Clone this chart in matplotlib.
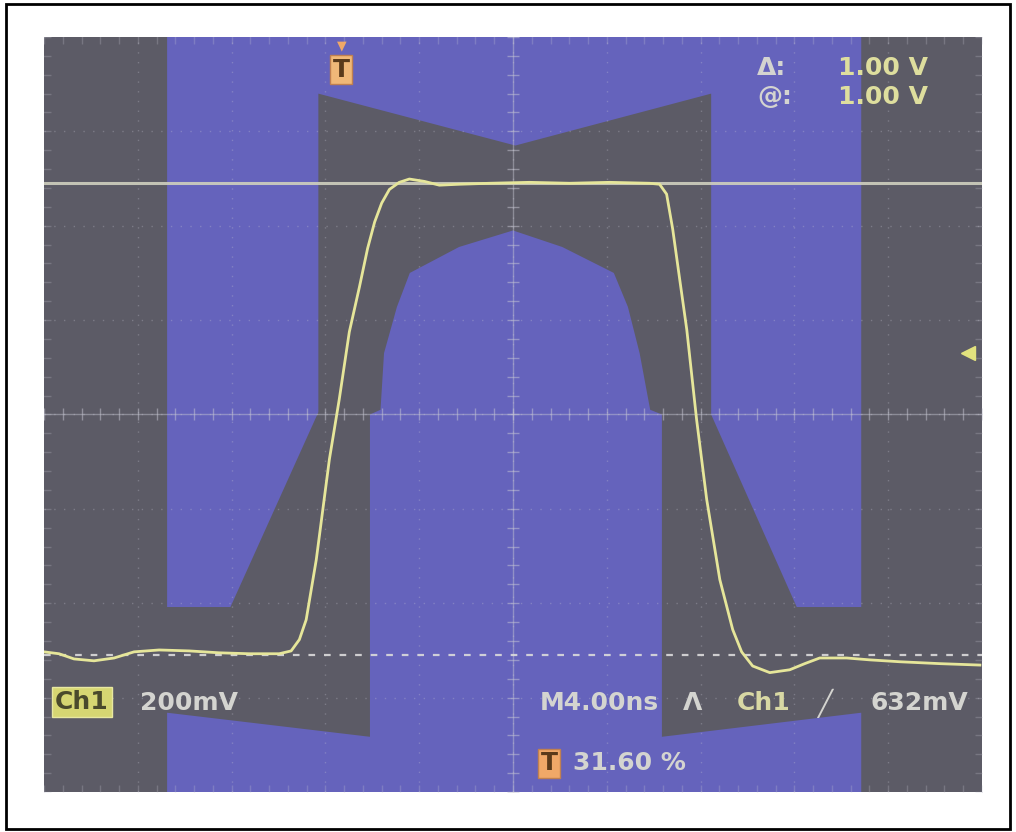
import matplotlib.pyplot as plt
import numpy as np
from matplotlib.patches import Polygon, Rectangle

# Ch1 trace: time in ns (4 ns/div), level in V (200 mV/div)
time_ns = [-20.0, -19.36, -18.72, -17.87, -17.01, -16.16, -15.09, -13.81, -12.53, -11.25,
           -9.97, -9.46, -9.11, -8.82, -8.39, -7.83, -7.41, -6.98, -6.55, -6.2,
           -5.9, -5.6, -5.27, -4.85, -4.42, -3.78, -3.14, -2.28, -1.0, 0.7,
           2.41, 4.12, 5.83, 6.25, 6.55, 6.81, 7.11, 7.41, 7.83, 8.26,
           8.82, 9.37, 9.75, 10.22, 10.95, 11.8, 12.44, 13.08, 14.23, 15.22,
           16.5, 18.21, 19.91]
volts = [-0.503, -0.507, -0.518, -0.522, -0.516, -0.503, -0.499, -0.501, -0.505, -0.507,
         -0.507, -0.501, -0.477, -0.435, -0.308, -0.095, 0.032, 0.175, 0.270, 0.352,
         0.408, 0.448, 0.477, 0.492, 0.499, 0.494, 0.486, 0.488, 0.490, 0.492,
         0.490, 0.492, 0.490, 0.488, 0.467, 0.393, 0.286, 0.180, -0.011, -0.180,
         -0.350, -0.456, -0.503, -0.533, -0.547, -0.541, -0.528, -0.516, -0.516, -0.520,
         -0.524, -0.528, -0.531]

# mask template (blue zones), outer one and centre one
mask_outer_t = [-14.75, 14.85, 14.85, 12.1, 8.45, 8.45, 0.1, -8.3, -8.3, -12.05, -14.75]
mask_outer_v = [0.8, 0.8, -0.408, -0.408, 0.0, 0.68, 0.57, 0.68, 0.005, -0.408, -0.408]
mask_inner_t = [-14.75, -14.75, -6.1, -6.1, -5.65, -5.5, -4.95, -4.4, -2.3, 0.0,
                2.1, 4.3, 4.9, 5.4, 5.85, 6.35, 6.35, 14.85, 14.85]
mask_inner_v = [-0.8, -0.632, -0.683, 0.0, 0.01, 0.13, 0.228, 0.30, 0.355, 0.39,
                0.355, 0.30, 0.228, 0.13, 0.01, 0.0, -0.683, -0.632, -0.8]

cursor_levels = [0.49, -0.51]
trig_level = 0.13

screen_gray = '#5c5b66'
mask_blue = '#6563bc'
trace_col = '#e6e69a'
grid_col = '#c8c8d4'
txt_col = '#d4d4d0'

fig = plt.figure(figsize=(10.16, 8.32), dpi=100)
fig.patch.set_facecolor('white')
fig.patches.append(Rectangle((6 / 1016, 3 / 832), 1004 / 1016, 825 / 832,
                             transform=fig.transFigure, fill=False, ec='black', lw=2))

ax = fig.add_axes([44 / 1016, 40 / 832, 938 / 1016, 755 / 832])
ax.set_xlim(-20, 20)
ax.set_ylim(-0.8, 0.8)
ax.set_facecolor(screen_gray)
for s in ax.spines.values():
    s.set_visible(False)
ax.set_xticks([])
ax.set_yticks([])

ax.add_patch(Polygon(np.column_stack([mask_outer_t, mask_outer_v]), closed=True,
                     fc=mask_blue, ec='none'))
ax.add_patch(Polygon(np.column_stack([mask_inner_t, mask_inner_v]), closed=True,
                     fc=mask_blue, ec='none'))

# graticule: dotted divisions, centre crosshair with minor ticks
for t in np.arange(-16, 17, 4):
    ax.axvline(t, color=grid_col, lw=1, ls=(0, (1, 6)), alpha=0.3)
for v in np.arange(-0.6, 0.61, 0.2):
    ax.axhline(v, color=grid_col, lw=1, ls=(0, (1, 6)), alpha=0.3)
ax.axvline(0, color=grid_col, lw=1, alpha=0.45)
ax.axhline(0, color=grid_col, lw=1, alpha=0.45)
minor_t = np.arange(-20, 20.01, 0.8)
minor_v = np.arange(-0.8, 0.801, 0.04)
ax.plot(minor_t, np.zeros_like(minor_t), ls='none', marker='|', ms=9, color=grid_col, alpha=0.5)
ax.plot(np.zeros_like(minor_v), minor_v, ls='none', marker='_', ms=9, color=grid_col, alpha=0.5)
for edge in (-20, 20):
    ax.plot(np.full_like(minor_v, edge), minor_v, ls='none', marker='_', ms=10, color=grid_col, alpha=0.25)
for edge in (-0.8, 0.8):
    ax.plot(minor_t, np.full_like(minor_t, edge), ls='none', marker='|', ms=10, color=grid_col, alpha=0.25)

# cursors
ax.axhline(cursor_levels[0], color='#cfcfbe', lw=2.2, alpha=0.9)
ax.axhline(cursor_levels[1], color='#dcdcdc', lw=1.6, ls=(0, (3, 4)), alpha=0.9)

ax.plot(time_ns, volts, color=trace_col, lw=2.0)


def scr(px, py):
    # screen pixel -> axes fraction
    return (px - 44) / 938, (792 - py) / 755


fkw = dict(fontsize=18, fontweight='bold', va='center', transform=ax.transAxes)

ax.text(*scr(757, 68), '\u0394:', color=txt_col, ha='left', **fkw)
ax.text(*scr(838, 68), '1.00 V', color='#dede9e', ha='left', **fkw)
ax.text(*scr(757, 97), '@:', color=txt_col, ha='left', **fkw)
ax.text(*scr(838, 97), '1.00 V', color='#dede9e', ha='left', **fkw)

ax.text(*scr(82, 702), 'Ch1', color='#4a4a2c', ha='center',
        bbox=dict(boxstyle='square,pad=0.12', fc='#d6d672', ec='#e8e8a0'), **fkw)
ax.text(*scr(140, 703), '200mV', color=txt_col, ha='left', **fkw)

ax.text(*scr(540, 703), 'M4.00ns', color=txt_col, ha='left', **fkw)
ax.text(*scr(683, 703), '\u039b', color=txt_col, ha='left', **fkw)
ax.text(*scr(737, 703), 'Ch1', color='#d8d8a4', ha='left', **fkw)
ax.text(*scr(817, 703), '\u2571', color=txt_col, ha='left', **fkw)
ax.text(*scr(870, 703), '632mV', color=txt_col, ha='left', **fkw)

ax.text(*scr(549, 763), 'T', color='#5a3a1a', ha='center',
        bbox=dict(boxstyle='square,pad=0.1', fc='#f0a868', ec='#c08050'), **fkw)
ax.text(*scr(573, 763), '31.60 %', color=txt_col, ha='left', **fkw)

# trigger position marker at top and trigger level arrow at right
ax.text(*scr(342, 46), '\u25bc', color='#f0a868', ha='center', fontsize=9, va='center',
        transform=ax.transAxes)
ax.text(*scr(341, 70), 'T', color='#5a3a1a', ha='center',
        bbox=dict(boxstyle='square,pad=0.1', fc='#f0b878', ec='#c08050'), **fkw)
ax.plot([19.4], [trig_level], marker='<', ms=10, color='#e2e27e', clip_on=False)

fig.savefig('out.png', dpi=100, facecolor='white')
